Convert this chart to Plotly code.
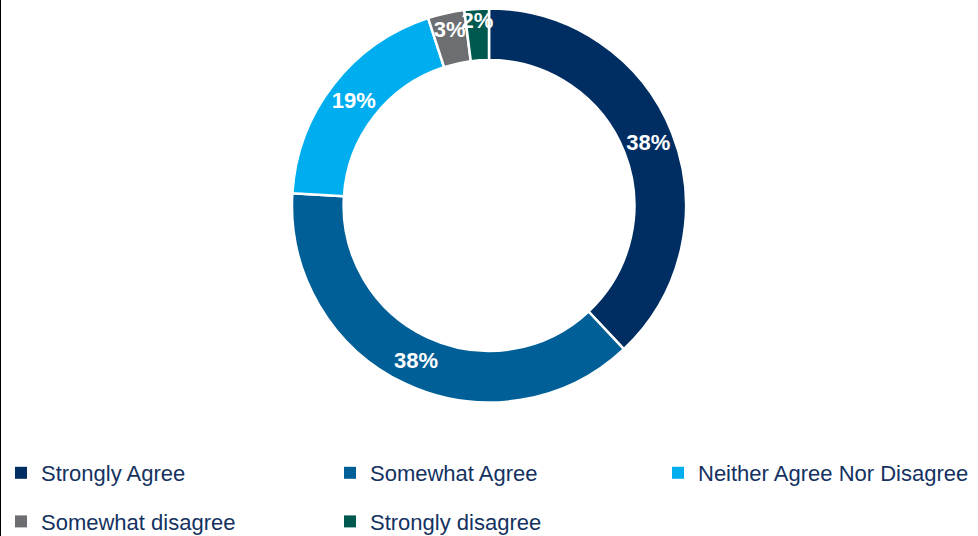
import plotly.graph_objects as go

labels = ["Strongly Agree", "Somewhat Agree", "Neither Agree Nor Disagree",
          "Somewhat disagree", "Strongly disagree"]
values = [38, 38, 19, 3, 2]
colors = ["#002D62", "#005F96", "#00AEEF", "#6D6E71", "#00594F"]
legend_of = ["legend", "legend2", "legend3", "legend", "legend2"]

W, H = 978, 536
fig = go.Figure()
fig.add_trace(go.Pie(
    labels=labels, values=values, sort=False, direction="clockwise", rotation=0,
    hole=0.738, showlegend=False,
    marker=dict(colors=colors, line=dict(color="white", width=2.5)),
    textinfo="percent", textposition="inside", insidetextorientation="horizontal",
    textfont=dict(family="Liberation Sans", size=22, color="white", weight="bold"),
    domain=dict(x=[292 / W, 686 / W], y=[1 - 403 / H, 1 - 8 / H]),
))
for i, (lab, col, lg) in enumerate(zip(labels, colors, legend_of)):
    fig.add_trace(go.Scatter(
        x=[None], y=[None], mode="markers", name=lab, legend=lg, legendgroup=lab,
        marker=dict(symbol="square", size=12, color=col),
    ))

legfont = dict(family="Liberation Sans", size=22, color="#14325F")
common = dict(orientation="v", xanchor="left", yanchor="top", y=1 - 452 / H,
              font=legfont, tracegroupgap=17, bgcolor="rgba(0,0,0,0)", borderwidth=0)
fig.update_layout(
    width=W, height=H, margin=dict(l=0, r=0, t=0, b=0, autoexpand=False),
    paper_bgcolor="white", plot_bgcolor="white",
    xaxis=dict(visible=False), yaxis=dict(visible=False),
    uniformtext=dict(minsize=22, mode="show"),
    legend=dict(x=1 / W, **common),
    legend2=dict(x=330 / W, **common),
    legend3=dict(x=658 / W, **common),
    shapes=[dict(type="line", xref="paper", yref="paper", x0=0, x1=0, y0=0, y1=1,
                 line=dict(color="black", width=2))],
)
fig.write_html("out.html", config={"displayModeBar": False},
               post_script="document.body.style.margin='0';document.body.style.padding='0';")
